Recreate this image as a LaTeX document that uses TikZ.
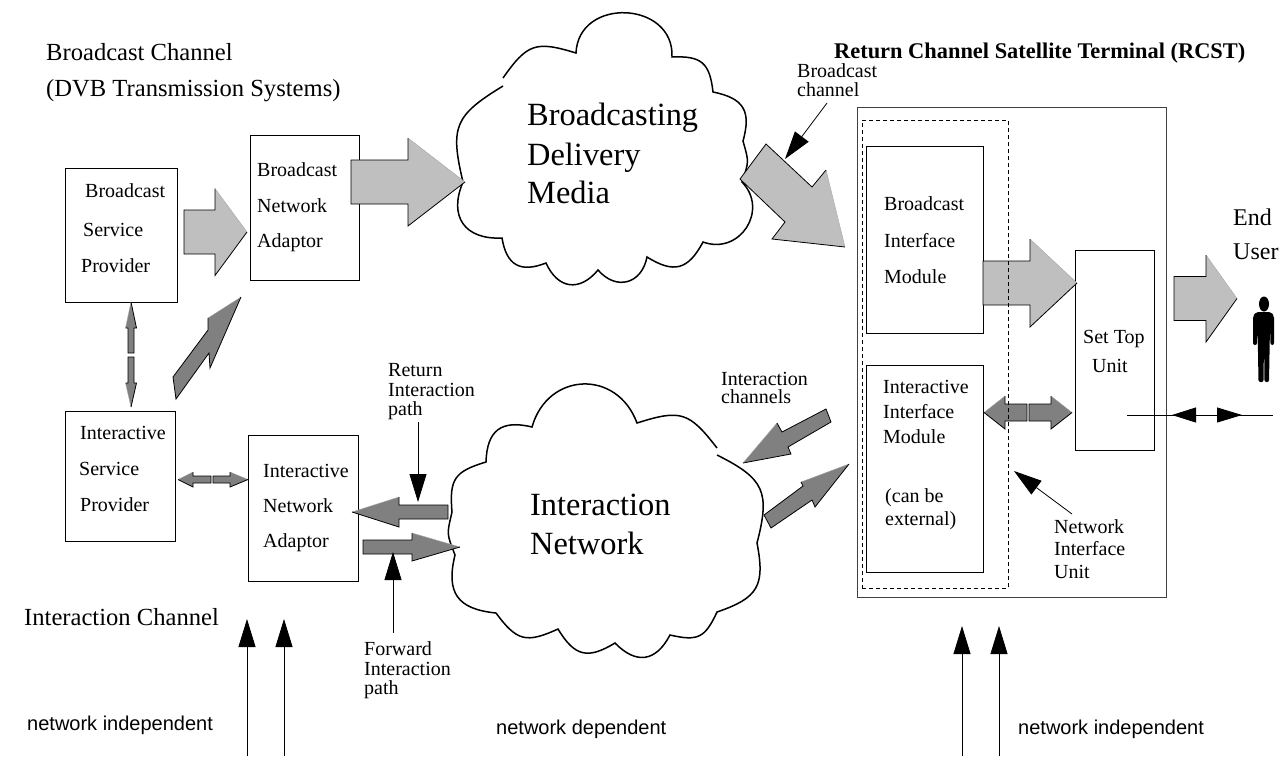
\documentclass[tikz,border=0pt]{standalone}
\usepackage{fontspec}
\setmainfont{Liberation Serif}
\newfontfamily\lsans{Liberation Sans}
\usetikzlibrary{arrows.meta,calc}
\tikzset{
  box/.style={draw=black,line width=0.9pt,fill=white,rectangle,inner sep=0pt,anchor=north west},
  lab/.style={anchor=base west,inner sep=0pt,font=\fontsize{20}{20}\selectfont},
  biglab/.style={lab,font=\fontsize{24.6}{24}\selectfont},
  hugelab/.style={lab,font=\fontsize{32.4}{32}\selectfont},
  sanslab/.style={lab,font=\lsans\fontsize{20}{20}\selectfont},
  cloudline/.style={draw=black,line width=1.5pt,fill=white,line join=miter},
  bl/.style={bend left=#1,looseness=1.4},
  thinarrow/.style={draw=black,line width=0.8pt,-{Triangle[length=28pt,width=17pt,fill=black]}},
  lightfill/.style={fill=black!25},
  darkfill/.style={fill=black!50},
  edge/.style={draw=black,line width=0.8pt,line join=miter},
  softedge/.style={draw=black!35,line width=0.4pt}
}
% style, from, to, shaft half width, head half width, head length, side of the soft edge
\newcommand{\barrow}[7]{%
  \coordinate (bb) at ($(#3)!#6pt!(#2)$);
  \path[#1] ($(#2)!#4pt!90:(#3)$) -- ($(bb)!#4pt!90:(#3)$) -- ($(bb)!#5pt!90:(#3)$) -- (#3)
     -- ($(bb)!#5pt!-90:(#3)$) -- ($(bb)!#4pt!-90:(#3)$) -- ($(#2)!#4pt!-90:(#3)$) -- cycle;
  \draw[softedge] (#3) -- ($(bb)!#5pt!#7:(#3)$);
  \draw[edge] ($(bb)!#5pt!#7:(#3)$) -- ($(bb)!#4pt!#7:(#3)$) -- ($(#2)!#4pt!#7:(#3)$)
     -- ($(#2)!#4pt!-#7:(#3)$) -- ($(bb)!#4pt!-#7:(#3)$) -- ($(bb)!#5pt!-#7:(#3)$) -- (#3);
}
\begin{document}
\begin{tikzpicture}[x=1pt,y=-1pt]
\useasboundingbox (0,0) rectangle (1281,756);

% clouds
\path[cloudline]
  (503,78) to[bl=36] (576,53) to[bend left=90,looseness=1.5] (672,57) to[bl=43] (713,92)
  to[bl=47] (743,141) to[bl=17] (742,182) to[bl=77] (703,242)
  to[bl=47] (647,257) to[bl=64] (598,270) to[bl=58] (546,263)
  to[bl=51] (502,238) to[bl=58] (463,182) to[bl=36] (503,86);
\path[cloudline]
  (717,455) to[bl=39] (757,543) to[bl=41] (717,612) to[bl=39] (670,635)
  to[bl=54] (615,643) to[bl=45] (558,629) to[bl=39] (496,613)
  to[bl=49] (455,555) to[bl=17] (452,512) to[bl=39] (486,462)
  to[bl=51] (532,427) to[bl=72] (637,423) to[bl=35] (717,448);

% boxes
\node[box,minimum width=112pt,minimum height=134pt] (bsp) at (65,168) {};
\node[box,minimum width=109pt,minimum height=145pt] (bna) at (250,135) {};
\node[box,minimum width=110pt,minimum height=130pt] (isp) at (65,411) {};
\node[box,minimum width=110pt,minimum height=146pt] (ina) at (248,435) {};
\node[box,draw=black!75,line width=1.1pt,minimum width=309pt,minimum height=490pt] (rcst) at (857,107) {};
\node[box,minimum width=117pt,minimum height=187pt] (bim) at (866,146) {};
\node[box,minimum width=117pt,minimum height=207pt] (iim) at (866,365) {};
\node[box,minimum width=79pt,minimum height=200pt] (stu) at (1075,250) {};

% block arrows
\coordinate (a1s) at (184,232); \coordinate (a1t) at (247,232);
\barrow{lightfill}{a1s}{a1t}{22}{43.5}{32}{90}
\coordinate (a2s) at (351,182); \coordinate (a2t) at (465,182);
\barrow{lightfill}{a2s}{a2t}{22}{44}{57}{90}
\coordinate (a3s) at (983,283); \coordinate (a3t) at (1077,283);
\barrow{lightfill}{a3s}{a3t}{22}{44}{47}{90}
\coordinate (a4s) at (1174,298.5); \coordinate (a4t) at (1237,298.5);
\barrow{lightfill}{a4s}{a4t}{22}{43.5}{31}{90}
\coordinate (vu) at (131,302); \coordinate (vus) at (131,353);
\barrow{darkfill}{vus}{vu}{3}{5.5}{26}{90}
\coordinate (vd) at (131,407); \coordinate (vds) at (131,357);
\barrow{darkfill}{vds}{vd}{3}{5.5}{24}{-90}
\coordinate (hls) at (211,479.5); \coordinate (hlt) at (178,479.5);
\barrow{darkfill}{hls}{hlt}{3.5}{7.5}{15}{-90}
\coordinate (hrs) at (213,479.5); \coordinate (hrt) at (248,479.5);
\barrow{darkfill}{hrs}{hrt}{3.5}{7.5}{18}{90}
\coordinate (rets) at (448,512); \coordinate (rett) at (352,512);
\barrow{darkfill}{rets}{rett}{7}{15}{47}{-90}
\coordinate (fws) at (363,547); \coordinate (fwt) at (460,547);
\barrow{darkfill}{fws}{fwt}{7}{14}{48}{90}
\coordinate (mls) at (1027,412.5); \coordinate (mlt) at (984,412.5);
\barrow{darkfill}{mls}{mlt}{8.5}{16.5}{21}{-90}
\coordinate (mrs) at (1029,412.5); \coordinate (mrt) at (1072,412.5);
\barrow{darkfill}{mrs}{mrt}{8.5}{16.5}{21}{90}

% skewed block arrows
\path[lightfill] (766,144) -- (812,187) -- (826,170) -- (845,247) -- (772,239) -- (785,222) -- (740,179) -- cycle;
\draw[softedge] (826,170) -- (845,247);
\draw[edge] (826,170) -- (812,187) -- (766,144) -- (740,179) -- (785,222) -- (772,239) -- (845,247);
\path[darkfill] (173,377) -- (208,330) -- (208,318) -- (241,297) -- (210,368) -- (209,353) -- (176,399) -- cycle;
\draw[softedge] (208,318) -- (241,297);
\draw[edge] (208,318) -- (208,330) -- (173,377) -- (176,399) -- (209,353) -- (210,368) -- (241,297);
\path[darkfill] (743,463) -- (777,423) -- (782,432) -- (826,409) -- (831,422) -- (788,447) -- (791,454) -- cycle;
\draw[softedge] (743,463) -- (777,423);
\draw[edge] (777,423) -- (782,432) -- (826,409) -- (831,422) -- (788,447) -- (791,454) -- (743,463);
\path[darkfill] (764,515) -- (803,486) -- (801,482) -- (849,464) -- (815,507) -- (812,500) -- (771,528) -- cycle;
\draw[softedge] (801,482) -- (849,464);
\draw[edge] (801,482) -- (803,486) -- (764,515) -- (771,528) -- (812,500) -- (815,507) -- (849,464);

% dashed network interface unit
\node[box,fill=none,dashed,dash pattern=on 4pt off 3pt,line width=0.8pt,minimum width=146pt,minimum height=468pt] (niu) at (862,120) {};

% thin arrows
\coordinate (bct) at (827,103); \coordinate (bch) at (785,159);
\draw[thinarrow] (bct) -- (bch);
\coordinate (nit) at (1072,514); \coordinate (nih) at (1014,471);
\draw[thinarrow] (nit) -- (nih);
\coordinate (rit) at (418,422); \coordinate (rih) at (418,502);
\draw[thinarrow] (rit) -- (rih);
\coordinate (fit) at (393,633); \coordinate (fih) at (393,552);
\draw[thinarrow] (fit) -- (fih);
\coordinate (b1) at (247,756); \coordinate (b1h) at (247,619);
\coordinate (b2) at (284,756); \coordinate (b2h) at (284,619);
\coordinate (b3) at (962,756); \coordinate (b3h) at (962,626);
\coordinate (b4) at (999,756); \coordinate (b4h) at (999,626);
\draw[thinarrow] (b1) -- (b1h);
\draw[thinarrow] (b2) -- (b2h);
\draw[thinarrow] (b3) -- (b3h);
\draw[thinarrow] (b4) -- (b4h);
\coordinate (ul) at (1127,415); \coordinate (ur) at (1273,415);
\coordinate (um) at (1207,415); \coordinate (ulh) at (1172,415); \coordinate (urh) at (1242,415);
\draw[line width=0.8pt] (ul) -- (ur);
\draw[thinarrow,-{Triangle[length=24pt,width=15pt,fill=black]}] (um) -- (ulh);
\draw[thinarrow,-{Triangle[length=25pt,width=15pt,fill=black]}] (um) -- (urh);

% person
\fill[black] (1264,304) ellipse [x radius=5pt,y radius=7.5pt];
\fill[black,rounded corners=2pt] (1253,345) -- (1253,316) -- (1256,312) -- (1271,312) -- (1274,316) -- (1274,345)
  -- (1270.5,345) -- (1270,325) -- (1269,382) -- (1264.5,382) -- (1264,340) -- (1263.5,382) -- (1258.5,382) -- (1257.5,325) -- (1257,345) -- cycle;

% labels
\node[biglab] (t1) at (46,60) {Broadcast Channel};
\node[biglab] (t2) at (46,96) {(DVB Transmission Systems)};
\node[lab,font=\bfseries\fontsize{22.4}{22}\selectfont] (t3) at (834,58) {Return Channel Satellite Terminal (RCST)};
\node[lab] (t4) at (797,77) {Broadcast};
\node[lab] (t5) at (797,96) {channel};
\node[hugelab] (t6) at (527,125) {Broadcasting};
\node[hugelab] (t7) at (527,165) {Delivery};
\node[hugelab] (t8) at (527,203) {Media};
\node[lab] (t9) at (85,197) {Broadcast};
\node[lab] (t10) at (83,236) {Service};
\node[lab] (t11) at (81,272) {Provider};
\node[lab] (t12) at (257,176) {Broadcast};
\node[lab] (t13) at (257,212) {Network};
\node[lab] (t14) at (257,247) {Adaptor};
\node[lab] (t15) at (80,439) {Interactive};
\node[lab] (t16) at (79,475) {Service};
\node[lab] (t17) at (80,511) {Provider};
\node[lab] (t18) at (263,477) {Interactive};
\node[lab] (t19) at (263,512) {Network};
\node[lab] (t20) at (263,547) {Adaptor};
\node[lab] (t21) at (388,376) {Return};
\node[lab] (t22) at (388,396) {Interaction};
\node[lab] (t23) at (388,415) {path};
\node[lab] (t24) at (364,655) {Forward};
\node[lab] (t25) at (364,675) {Interaction};
\node[lab] (t26) at (364,694) {path};
\node[biglab] (t27) at (24,625) {Interaction Channel};
\node[sanslab] (t28) at (27,730) {network independent};
\node[sanslab] (t29) at (496,734) {network dependent};
\node[sanslab] (t30) at (1018,734) {network independent};
\node[lab] (t31) at (721,385) {Interaction};
\node[lab] (t32) at (721,403) {channels};
\node[hugelab] (t33) at (530,515) {Interaction};
\node[hugelab] (t34) at (530,554) {Network};
\node[lab] (t35) at (884,210) {Broadcast};
\node[lab] (t36) at (884,247) {Interface};
\node[lab] (t37) at (884,283) {Module};
\node[lab] (t38) at (883,393) {Interactive};
\node[lab] (t39) at (883,418) {Interface};
\node[lab] (t40) at (883,443) {Module};
\node[lab] (t41) at (885,502) {(can be};
\node[lab] (t42) at (885,525) {external)};
\node[lab] (t43) at (1054,533) {Network};
\node[lab] (t44) at (1054,555) {Interface};
\node[lab] (t45) at (1054,578) {Unit};
\node[lab] (t46) at (1083,343) {Set Top};
\node[lab] (t47) at (1092,372) {Unit};
\node[lab,font=\fontsize{24}{24}\selectfont] (t48) at (1233,225) {End};
\node[lab,font=\fontsize{24}{24}\selectfont] (t49) at (1233,259) {User};
\end{tikzpicture}
\end{document}
